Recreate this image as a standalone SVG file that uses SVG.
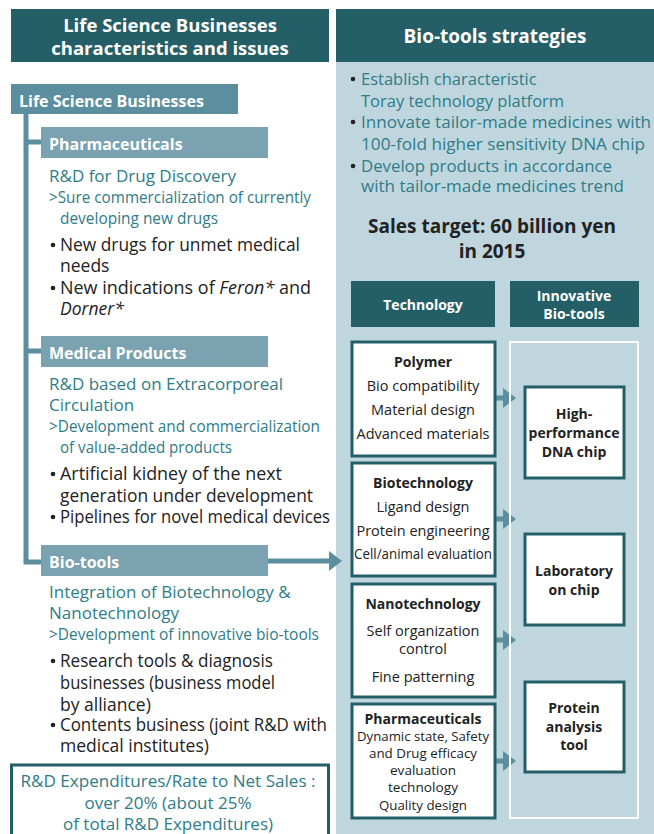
<svg xmlns="http://www.w3.org/2000/svg" width="654" height="834" viewBox="0 0 654 834">
<defs>
<style>
.hd{fill:#245f68}
.bar1{fill:#5b8fa0}
.bar2{fill:#7aa2b0}
.wt{fill:#fff;font-family:"Open Sans","Liberation Sans",sans-serif;font-weight:bold}
.tl{fill:#2e7c88;font-family:"Open Sans","Liberation Sans",sans-serif;font-size:17px}
.tr{fill:#2e7c88;font-family:"Open Sans","Liberation Sans",sans-serif;font-size:16.5px}
.tc{fill:#2e7c88;font-family:"Open Sans","Liberation Sans",sans-serif;font-size:15.5px}
.bk{fill:#222;font-family:"Open Sans","Liberation Sans",sans-serif;font-size:17.5px}
.bx{fill:#fff;stroke:#245f68;stroke-width:3}
.bt{fill:#222;font-family:"Open Sans","Liberation Sans",sans-serif;font-size:14.5px;text-anchor:middle}
.bs{fill:#222;font-family:"Open Sans","Liberation Sans",sans-serif;font-size:13px;text-anchor:middle}
.bb{fill:#222;font-family:"Open Sans","Liberation Sans",sans-serif;font-size:14px;font-weight:bold;text-anchor:middle}
.conn{stroke:#5b8fa0;stroke-width:5;fill:none}
</style>
<marker id="ah" markerWidth="4" markerHeight="4" refX="1" refY="2" orient="auto" markerUnits="strokeWidth">
<path d="M0,0 L2.6,2 L0,4 Z" fill="#5b8fa0"/>
</marker>
</defs>
<rect width="654" height="834" fill="#fff"/>
<g id="right-panel">
<rect x="336" y="62" width="318" height="772" fill="#c0d6de"/>
<rect x="336" y="9" width="318" height="53" class="hd"/>
<text x="495" y="43" class="wt" font-size="19" text-anchor="middle">Bio-tools strategies</text>
<g class="tr">
<circle cx="353" cy="79" r="2.3" fill="#222"/>
<text x="361" y="85">Establish characteristic</text>
<text x="361" y="107">Toray technology platform</text>
<circle cx="353" cy="122" r="2.3" fill="#222"/>
<text x="361" y="128" textLength="290" lengthAdjust="spacingAndGlyphs">Innovate tailor-made medicines with</text>
<text x="361" y="150" textLength="284" lengthAdjust="spacingAndGlyphs">100-fold higher sensitivity DNA chip</text>
<circle cx="353" cy="166" r="2.3" fill="#222"/>
<text x="361" y="172" textLength="251" lengthAdjust="spacingAndGlyphs">Develop products in accordance</text>
<text x="361" y="192" textLength="263" lengthAdjust="spacingAndGlyphs">with tailor-made medicines trend</text>
</g>
<text x="492" y="233" fill="#222" font-family="Open Sans, Liberation Sans, sans-serif" font-size="19" font-weight="bold" text-anchor="middle">Sales target: 60 billion yen</text>
<text x="492" y="258" fill="#222" font-family="Open Sans, Liberation Sans, sans-serif" font-size="19" font-weight="bold" text-anchor="middle">in 2015</text>
</g>
<g id="left-header">
<rect x="11" y="9" width="318" height="53" class="hd"/>
<text x="170" y="32" class="wt" font-size="18.5" text-anchor="middle">Life Science Businesses</text>
<text x="170" y="55" class="wt" font-size="18.5" text-anchor="middle">characteristics and issues</text>
</g>
<g id="connectors">
<path d="M26,114 V562 H41" stroke="#5b8fa0" stroke-width="5" fill="none"/>
<path d="M26,142 H41 M26,351 H41" stroke="#5b8fa0" stroke-width="5" fill="none"/>
<path d="M268,561 H334" class="conn" marker-end="url(#ah)"/>
<path d="M496,398 H508" class="conn" marker-end="url(#ah)"/>
<path d="M496,519 H508" class="conn" marker-end="url(#ah)"/>
<path d="M496,640 H508" class="conn" marker-end="url(#ah)"/>
<path d="M496,761 H508" class="conn" marker-end="url(#ah)"/>
</g>
<g id="life-science">
<rect x="11" y="84" width="227" height="30" class="bar1"/>
<text x="19" y="107" class="wt" font-size="16">Life Science Businesses</text>
</g>
<g id="pharmaceuticals">
<rect x="41" y="127" width="227" height="31" class="bar2"/>
<text x="49" y="150" class="wt" font-size="16">Pharmaceuticals</text>
<text x="49" y="182" class="tl">R&amp;D for Drug Discovery</text>
<text x="49" y="203" class="tc" textLength="262" lengthAdjust="spacingAndGlyphs">&gt;Sure commercialization of currently</text>
<text x="60" y="224" class="tc" textLength="158" lengthAdjust="spacingAndGlyphs">developing new drugs</text>
<circle cx="53" cy="245" r="2.3" fill="#222"/>
<text x="60" y="251" class="bk" textLength="240" lengthAdjust="spacingAndGlyphs">New drugs for unmet medical</text>
<text x="60" y="272" class="bk">needs</text>
<circle cx="53" cy="288" r="2.3" fill="#222"/>
<text x="60" y="294" class="bk" textLength="251" lengthAdjust="spacingAndGlyphs">New  indications of <tspan font-style="italic">Feron*</tspan> and</text>
<text x="60" y="315" class="bk" font-style="italic">Dorner*</text>
</g>
<g id="medical-products">
<rect x="41" y="336" width="227" height="31" class="bar2"/>
<text x="49" y="359" class="wt" font-size="16">Medical Products</text>
<text x="49" y="390" class="tl">R&amp;D based on Extracorporeal</text>
<text x="49" y="411" class="tl">Circulation</text>
<text x="49" y="432" class="tc" textLength="271" lengthAdjust="spacingAndGlyphs">&gt;Development and commercialization</text>
<text x="60" y="453" class="tc" textLength="172" lengthAdjust="spacingAndGlyphs">of value-added products</text>
<circle cx="53" cy="474" r="2.3" fill="#222"/>
<text x="60" y="480" class="bk" textLength="222" lengthAdjust="spacingAndGlyphs">Artificial kidney of the next</text>
<text x="60" y="502" class="bk" textLength="253" lengthAdjust="spacingAndGlyphs">generation under development</text>
<circle cx="53" cy="517" r="2.3" fill="#222"/>
<text x="60" y="523" class="bk" textLength="270" lengthAdjust="spacingAndGlyphs">Pipelines for novel medical devices</text>
</g>
<g id="bio-tools">
<rect x="41" y="545" width="227" height="31" class="bar2"/>
<text x="49" y="568" class="wt" font-size="16">Bio-tools</text>
<text x="49" y="598" class="tl">Integration of Biotechnology &amp;</text>
<text x="49" y="619" class="tl">Nanotechnology</text>
<text x="49" y="640" class="tc" textLength="270" lengthAdjust="spacingAndGlyphs">&gt;Development of innovative bio-tools</text>
<circle cx="53" cy="661" r="2.3" fill="#222"/>
<text x="60" y="667" class="bk" textLength="213" lengthAdjust="spacingAndGlyphs">Research tools &amp; diagnosis</text>
<text x="60" y="689" class="bk" textLength="215" lengthAdjust="spacingAndGlyphs">businesses (business model</text>
<text x="60" y="711" class="bk">by alliance)</text>
<circle cx="53" cy="725" r="2.3" fill="#222"/>
<text x="60" y="731" class="bk" textLength="267" lengthAdjust="spacingAndGlyphs">Contents business (joint R&amp;D with</text>
<text x="60" y="752" class="bk">medical institutes)</text>
</g>
<g id="rd-expenditures">
<rect x="11.5" y="765" width="317" height="75" fill="#fff" stroke="#245f68" stroke-width="3"/>
<text x="168" y="787" class="tl" text-anchor="middle" textLength="295" lengthAdjust="spacingAndGlyphs">R&amp;D Expenditures/Rate to Net Sales :</text>
<text x="168" y="809" class="tl" text-anchor="middle">over 20% (about 25%</text>
<text x="168" y="830" class="tl" text-anchor="middle">of total R&amp;D Expenditures)</text>
</g>
<g id="technology-header">
<rect x="351" y="281" width="144" height="46" class="hd"/>
<text x="423" y="310" class="wt" font-size="14" text-anchor="middle">Technology</text>
</g>
<g id="bio-tools-header">
<rect x="510" y="281" width="129" height="46" class="hd"/>
<text x="574" y="301" class="wt" font-size="14" text-anchor="middle">Innovative</text>
<text x="574" y="319" class="wt" font-size="14" text-anchor="middle">Bio-tools</text>
</g>
<g id="container">
<rect x="510" y="342" width="128" height="476" fill="none" stroke="#fff" stroke-width="2"/>
</g>
<g id="polymer">
<rect x="352" y="342" width="143" height="114" class="bx"/>
<text x="423" y="367" class="bb">Polymer</text>
<text x="423" y="391" class="bt">Bio compatibility</text>
<text x="423" y="415" class="bt">Material design</text>
<text x="423" y="439" class="bt">Advanced materials</text>
</g>
<g id="biotechnology">
<rect x="352" y="463" width="143" height="113" class="bx"/>
<text x="423" y="488" class="bb">Biotechnology</text>
<text x="423" y="512" class="bt">Ligand design</text>
<text x="423" y="536" class="bt">Protein engineering</text>
<text x="423" y="559" class="bt" textLength="138" lengthAdjust="spacingAndGlyphs">Cell/animal evaluation</text>
</g>
<g id="nanotechnology">
<rect x="352" y="584" width="143" height="113" class="bx"/>
<text x="423" y="609" class="bb">Nanotechnology</text>
<text x="423" y="636" class="bt">Self organization</text>
<text x="423" y="654" class="bt">control</text>
<text x="423" y="682" class="bt">Fine patterning</text>
</g>
<g id="pharma-tech">
<rect x="352" y="704" width="143" height="114" class="bx"/>
<text x="423" y="724" class="bb">Pharmaceuticals</text>
<text x="423" y="741" class="bs" textLength="132" lengthAdjust="spacingAndGlyphs">Dynamic state, Safety</text>
<text x="423" y="758" class="bs" textLength="108" lengthAdjust="spacingAndGlyphs">and Drug efficacy</text>
<text x="423" y="775" class="bs" textLength="66" lengthAdjust="spacingAndGlyphs">evaluation</text>
<text x="423" y="792" class="bs" textLength="70" lengthAdjust="spacingAndGlyphs">technology</text>
<text x="423" y="810" class="bs" textLength="88" lengthAdjust="spacingAndGlyphs">Quality design</text>
</g>
<g id="dna-chip">
<rect x="525" y="387" width="99" height="91" class="bx"/>
<text x="574" y="419" class="bb">High-</text>
<text x="574" y="438" class="bb">performance</text>
<text x="574" y="457" class="bb">DNA chip</text>
</g>
<g id="lab-chip">
<rect x="525" y="534" width="99" height="91" class="bx"/>
<text x="574" y="576" class="bb">Laboratory</text>
<text x="574" y="595" class="bb">on chip</text>
</g>
<g id="protein-tool">
<rect x="525" y="682" width="99" height="90" class="bx"/>
<text x="574" y="713" class="bb">Protein</text>
<text x="574" y="732" class="bb">analysis</text>
<text x="574" y="750" class="bb">tool</text>
</g>
</svg>
